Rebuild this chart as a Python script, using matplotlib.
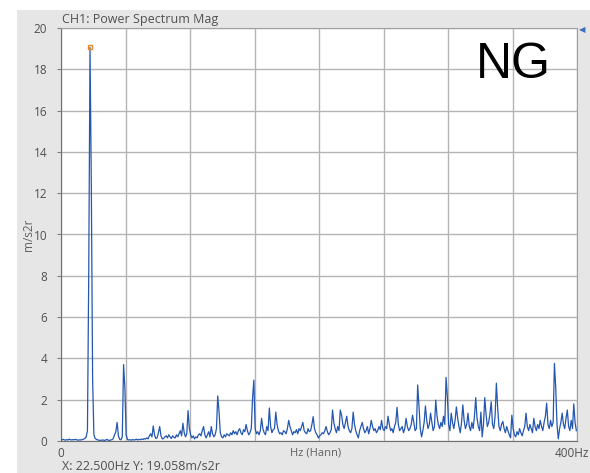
import numpy as np
import matplotlib
matplotlib.use("Agg")
import matplotlib.pyplot as plt
from matplotlib.patches import Rectangle

# spectrum magnitude (m/s2r), one value per 1 Hz bin, bins centred at k + 0.5 Hz
mag = [
    0.05, 0.08, 0.06, 0.04, 0.07, 0.05, 0.09, 0.06, 0.05, 0.07,
    0.06, 0.08, 0.05, 0.04, 0.06, 0.05, 0.07, 0.09, 0.12, 0.2,
    0.5, 8.1, 19.058, 12.4, 3.0, 0.3, 0.12, 0.08, 0.05, 0.04,
    0.03, 0.04, 0.05, 0.03, 0.04, 0.08, 0.04, 0.03, 0.05, 0.06,
    0.12, 0.3, 0.45, 0.9, 0.25, 0.08, 0.06, 0.2, 3.7, 2.6,
    0.3, 0.08, 0.05, 0.06, 0.04, 0.07, 0.05, 0.06, 0.09, 0.05,
    0.08, 0.06, 0.1, 0.07, 0.12, 0.09, 0.15, 0.1, 0.25, 0.35,
    0.2, 0.73, 0.3, 0.12, 0.15, 0.4, 0.7, 0.25, 0.1, 0.12,
    0.2, 0.25, 0.15, 0.3, 0.2, 0.12, 0.25, 0.18, 0.15, 0.3,
    0.2, 0.35, 0.5, 0.25, 0.86, 0.4, 0.2, 0.35, 1.47, 0.6,
    0.3, 0.15, 0.25, 0.1, 0.2, 0.15, 0.3, 0.35, 0.25, 0.5,
    0.7, 0.3, 0.15, 0.3, 0.45, 0.2, 0.7, 0.35, 0.2, 0.3,
    0.6, 2.18, 1.42, 0.4, 0.2, 0.15, 0.3, 0.2, 0.35, 0.3,
    0.25, 0.4, 0.3, 0.5, 0.35, 0.45, 0.3, 0.5, 0.6, 0.4,
    0.3, 0.55, 0.45, 0.8, 0.5, 0.3, 0.4, 0.6, 2.1, 2.95,
    0.6, 0.35, 0.45, 0.3, 0.5, 1.1, 0.6, 0.4, 0.3, 0.7,
    0.5, 1.6, 0.7, 0.4, 0.55, 0.6, 1.4, 0.8, 0.5, 0.35,
    0.4, 0.3, 0.5, 0.45, 0.35, 0.6, 1.0, 0.7, 0.5, 0.3,
    0.45, 0.4, 0.55, 0.35, 0.6, 0.5, 0.7, 0.9, 0.5, 0.4,
    0.35, 0.6, 0.45, 0.5, 0.8, 1.18, 0.6, 0.4, 0.3, 0.15,
    0.25, 0.3, 0.4, 0.35, 0.5, 0.7, 0.45, 0.3, 0.4, 0.55,
    1.5, 0.9, 0.6, 0.4, 0.7, 0.5, 1.5, 1.25, 0.8, 0.6,
    0.9, 1.2, 0.7, 0.5, 0.4, 0.6, 1.4, 0.8, 0.5, 0.3,
    0.15, 0.5, 0.7, 0.9, 0.6, 0.4, 0.5, 0.7, 0.35, 0.6,
    1.0, 0.7, 0.5, 0.6, 0.4, 0.5, 0.7, 0.55, 1.0, 0.6,
    0.5, 0.7, 0.6, 1.2, 0.8, 0.5, 0.6, 0.4, 0.7, 0.9,
    1.63, 0.8, 0.5, 0.6, 0.7, 0.4, 0.6, 1.1, 0.7, 0.5,
    0.6, 0.8, 1.25, 0.9, 0.5, 0.6, 2.71, 1.7, 0.6, 0.2,
    0.5, 0.9, 1.7, 1.0, 0.6, 0.8, 1.35, 0.9, 0.5, 0.7,
    1.98, 1.2, 0.8, 0.6, 0.9, 0.7, 1.2, 0.8, 3.08, 2.15,
    0.8, 0.5, 1.35, 0.9, 0.6, 1.0, 1.65, 1.1, 0.7, 0.4,
    0.9, 1.75, 1.0, 0.6, 0.8, 1.35, 0.7, 0.5, 0.9, 0.6,
    1.2, 2.1, 1.1, 0.7, 0.5, 1.4, 0.2, 0.8, 2.1, 1.3,
    0.7, 0.9, 1.3, 1.9, 0.8, 0.6, 1.2, 2.8, 1.6, 0.7,
    0.5, 0.8, 0.95, 0.6, 0.4, 0.7, 0.5, 0.3, 0.15, 1.25,
    0.6, 0.3, 0.2, 0.45, 0.3, 0.6, 0.4, 0.25, 0.5, 0.7,
    1.35, 0.7, 0.5, 0.8, 0.6, 0.4, 1.1, 0.7, 0.5, 0.8,
    0.6, 1.0, 0.7, 0.5, 0.9, 1.2, 1.83, 0.8, 0.6, 1.0,
    0.7, 0.9, 3.76, 2.6, 0.8, 0.1, 0.6, 0.9, 1.35, 0.8,
    0.6, 1.1, 1.5, 0.7, 0.5, 1.0, 0.6, 1.8, 0.9, 0.5,
]
freq = np.arange(len(mag)) + 0.5

cursor_x = 22.5
cursor_y = 19.058
y_ticks = [0, 2, 4, 6, 8, 10, 12, 14, 16, 18, 20]
x_grid = [0, 50, 100, 150, 200, 250, 300, 350, 400]

plt.rcParams['font.family'] = ['Open Sans', 'DejaVu Sans']

fig = plt.figure(figsize=(5.9, 4.73), dpi=100)
fig.patch.set_facecolor('white')
# grey panel behind the chart
fig.patches.append(Rectangle((17 / 590, 0), 1, 1 - 10 / 473, transform=fig.transFigure,
                             facecolor='#e6e6e6', edgecolor='none', zorder=-10))

ax = fig.add_axes([61 / 590, 32 / 473, 516 / 590, 413 / 473])
ax.set_zorder(1)
ax.set_facecolor('white')
ax.plot(freq, mag, color='#2457b0', lw=0.9, zorder=3)
ax.plot([cursor_x], [cursor_y], marker='s', ms=3.5, mfc='none', mec='#e8862a', mew=1.0, zorder=4)

ax.set_xlim(0, 400)
ax.set_ylim(0, 20)
ax.set_yticks(y_ticks)
ax.set_yticklabels([str(t) for t in y_ticks], fontsize=8.5, color='#505050')
ax.set_xticks(x_grid)
ax.set_xticklabels([])
ax.tick_params(axis='y', length=3, color='#808080', pad=7)
ax.tick_params(axis='x', length=0)
ax.grid(True, color='#b4b4b4', lw=1.0, zorder=1)

for side in ['top', 'right']:
    ax.spines[side].set_color('#a0a0a0')
for side in ['left', 'bottom']:
    ax.spines[side].set_color('#707070')

ax.set_ylabel('m/s2r', fontsize=8.5, color='#606060')
ax.yaxis.set_label_coords(-(61 - 35) / 516, 0.5)

fig.text(62 / 590, 1 - 19 / 473, 'CH1: Power Spectrum Mag', fontsize=9, color='#505050', va='center')
fig.text(61 / 590, 1 - 453 / 473, '0', fontsize=8.5, color='#505050', ha='center', va='center')
fig.text(589 / 590, 1 - 453 / 473, '400Hz', fontsize=8.5, color='#505050', ha='right', va='center')
fig.text(316 / 590, 1 - 453 / 473, 'Hz (Hann)', fontsize=8, color='#606060', ha='center', va='center')
fig.text(62 / 590, 1 - 466 / 473, 'X: 22.500Hz Y: 19.058m/s2r', fontsize=9, color='#505050', va='center')
fig.text(513 / 590, 1 - 65 / 473, 'NG', fontsize=36, family='Liberation Sans', color='black',
         ha='center', va='center')
fig.text(582 / 590, 1 - 30 / 473, '\u25c0', fontsize=6, color='#3a6fc0', ha='center', va='center',
         family='DejaVu Sans')

fig.savefig('out.png', dpi=100)
